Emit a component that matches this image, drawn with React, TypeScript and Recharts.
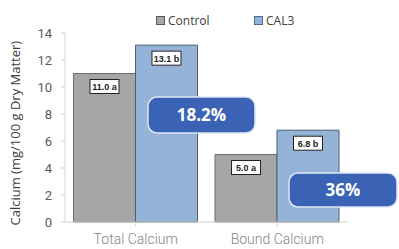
import { Bar, BarChart, LabelList, Legend, XAxis, YAxis } from "recharts";

const categories = ["Total Calcium", "Bound Calcium"];
const control = [11.0, 5.0];
const cal3 = [13.1, 6.8];
const controlLetters = ["a", "a"];
const cal3Letters = ["b", "b"];
const increases = ["18.2%", "36%"];
const yTicks = [0, 2, 4, 6, 8, 10, 12, 14];

const data = categories.map((name, i) => ({
  name,
  control: control[i],
  cal3: cal3[i],
  controlLabel: `${control[i].toFixed(1)} ${controlLetters[i]}`,
  cal3Label: `${cal3[i].toFixed(1)} ${cal3Letters[i]}`,
}));

const BoxLabel = (props: any) => {
  const { x, y, width, value } = props;
  const w = 29;
  const h = 14;
  const cx = x + width / 2;
  return (
    <g>
      <rect x={cx - w / 2} y={y + 6} width={w} height={h} fill="#fff" stroke="#222" strokeWidth={1} />
      <text x={cx} y={y + 16.5} textAnchor="middle" fontSize={9} fontWeight="bold" fill="#222" fontFamily="Liberation Sans Narrow, Liberation Sans">
        {value}
      </text>
    </g>
  );
};

const Callout = ({ x, y, w, h, text }: { x: number; y: number; w: number; h: number; text: string }) => (
  <g>
    <rect x={x} y={y} width={w} height={h} rx={9} ry={9} fill="#3b63b5" stroke="#dfe8f5" strokeWidth={1.5} />
    <text x={x + w / 2} y={y + h / 2 + 6} textAnchor="middle" fontSize={17} fontWeight="bold" fill="#fff" fontFamily="Open Sans">
      {text}
    </text>
  </g>
);

const LegendContent = () => (
  <div style={{ position: "relative", height: 14, fontFamily: "Open Sans", fontSize: 12, color: "#404040" }}>
    <span style={{ position: "absolute", left: 156, top: 0, display: "flex", alignItems: "center" }}>
      <span style={{ width: 7, height: 7, background: "#a6a6a6", border: "1px solid #595959", marginRight: 3 }} />
      Control
    </span>
    <span style={{ position: "absolute", left: 254, top: 0, display: "flex", alignItems: "center" }}>
      <span style={{ width: 7, height: 7, background: "#95b3d7", border: "1px solid #4f6a8f", marginRight: 3 }} />
      CAL3
    </span>
  </div>
);

export default function App() {
  return (
    <div style={{ position: "absolute", left: 0, top: 0, width: 399, height: 249, background: "#fff" }}>
      <BarChart
        width={399}
        height={249}
        data={data}
        margin={{ top: 19, right: 51, left: 5, bottom: 0 }}
        barCategoryGap="6%"
        barGap={0}
      >
        <XAxis
          dataKey="name"
          stroke="#d0d0d0"
          tick={{ fill: "#858585", fontSize: 14, fontFamily: "Roboto", fontWeight: 300, dy: 6 }}
          tickLine={{ stroke: "#d0d0d0" }}
          height={27}
          tickSize={4}
        />
        <YAxis
          domain={[0, 14]}
          ticks={yTicks}
          width={60}
          stroke="#d9d9d9"
          tick={{ fill: "#595959", fontSize: 13, fontFamily: "Roboto", dx: -7 }}
          tickLine={{ stroke: "#d0d0d0" }}
          tickSize={4}
          label={{
            value: "Calcium (mg/100 g Dry Matter)",
            angle: -90,
            position: "insideLeft",
            dx: 5,
            dy: 98,
            style: { fill: "#404040", fontSize: 13, fontFamily: "Open Sans", textAnchor: "start" },
          }}
        />
        <Legend verticalAlign="top" wrapperStyle={{ top: 12, left: 0 }} content={<LegendContent />} />
        <Bar dataKey="control" name="Control" fill="#a6a6a6" stroke="#6e6e6e" isAnimationActive={false}>
          <LabelList dataKey="controlLabel" content={<BoxLabel />} />
        </Bar>
        <Bar dataKey="cal3" name="CAL3" fill="#95b3d7" stroke="#4a5d78" isAnimationActive={false}>
          <LabelList dataKey="cal3Label" content={<BoxLabel />} />
        </Bar>
      </BarChart>
      <svg width={399} height={249} style={{ position: "absolute", left: 0, top: 0, pointerEvents: "none" }}>
        <Callout x={148} y={97} w={107} h={36} text={increases[0]} />
        <Callout x={289} y={173} w={108} h={34} text={increases[1]} />
      </svg>
    </div>
  );
}
